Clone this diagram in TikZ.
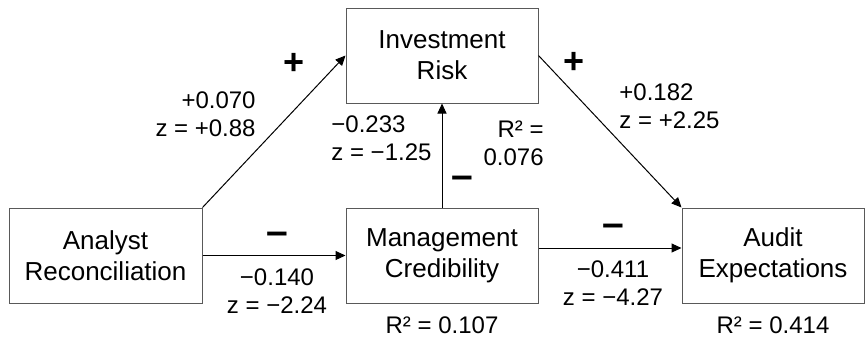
\documentclass[tikz,border=0pt]{standalone}
\usepackage{fontspec}
\setmainfont{Liberation Sans}
\usetikzlibrary{arrows.meta}
\begin{document}
\begin{tikzpicture}[x=0.5pt,y=-0.5pt,
  box/.style={draw=black!65, line width=0.5pt, rectangle, inner sep=0pt,
    minimum height=47.5pt, align=center, font=\fontsize{13}{15.5}\selectfont},
  arr/.style={-{Triangle[length=5pt,width=4.5pt]}, line width=0.5pt},
  lab/.style={font=\fontsize{12}{14}\selectfont, inner sep=0pt},
  sgn/.style={font=\fontsize{18}{18}\selectfont\bfseries, inner sep=0pt},
  neg/.style={font=\fontsize{19.5}{19.5}\selectfont\bfseries, inner sep=0pt}]
\useasboundingbox (0,0) rectangle (865,339);
% boxes
\node[box, minimum width=96.5pt] (AR) at (105.5,255.5) {Analyst\\Reconciliation};
\node[box, minimum width=96pt] (IR) at (442,55.5) {Investment\\Risk};
\node[box, minimum width=96pt] (MC) at (442,255.5) {Management\\Credibility};
\node[box, minimum width=91pt] (AE) at (773,255.5) {Audit\\Expectations};
% connectors
\draw[arr] (AR.north east) -- (IR.west);
\draw[arr] (IR.east) -- (AE.north west);
\draw[arr] (MC.north) -- (IR.south);
\draw[arr] (AR.east) -- (MC.west);
\draw[arr] ([yshift=3.75pt]MC.east) -- ([yshift=3.75pt]AE.west);
% signs
\node[sgn] (s1) at (294,64) {+};
\node[sgn] (s2) at (574,63) {+};
\node[neg] (s3) at (462,182) {–};
\node[neg] (s4) at (277,238) {–};
\node[neg] (s5) at (613,230) {–};
% labels
\node[lab, anchor=east, align=right] (l1) at (256,114) {+0.070\\z = +0.88};
\node[lab, anchor=west, align=left] (l2) at (331,138.5) {−0.233\\z = −1.25};
\node[lab, anchor=east, align=right] (l3) at (544,143) {R² =\\0.076};
\node[lab, anchor=west, align=left] (l4) at (619,106) {+0.182\\z = +2.25};
\node[lab, align=center] (l5) at (277,291) {−0.140\\z = −2.24};
\node[lab, align=center] (l6) at (613,283) {−0.411\\z = −4.27};
\node[lab] (r1) at (442,325) {R² = 0.107};
\node[lab] (r2) at (773,325) {R² = 0.414};
\end{tikzpicture}
\end{document}
